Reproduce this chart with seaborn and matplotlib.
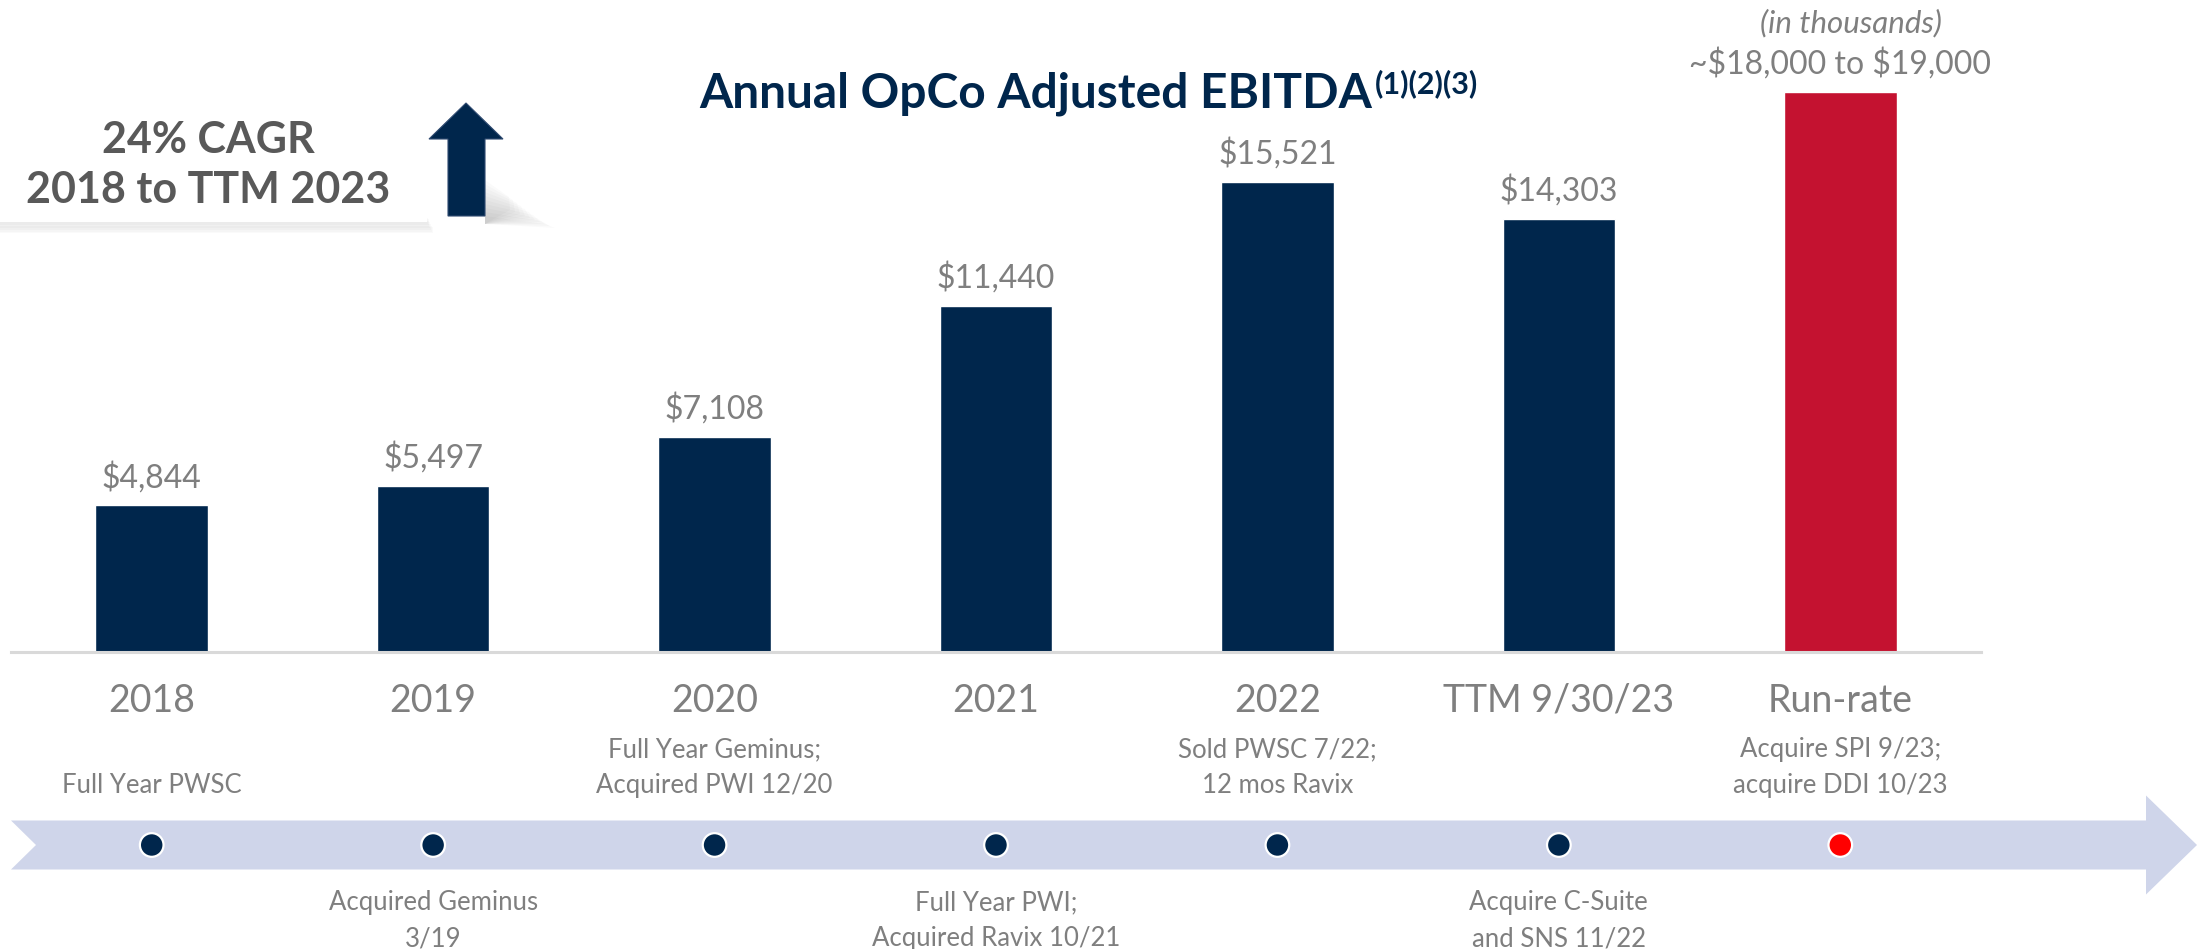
import numpy as np
import pandas as pd
import matplotlib
matplotlib.use("Agg")
import matplotlib.pyplot as plt
import matplotlib.transforms as mtransforms
from matplotlib.patches import Polygon, Rectangle
import seaborn as sns

# Data
categories = ["2018", "2019", "2020", "2021", "2022", "TTM 9/30/23", "Run-rate"]
ebitda = [4844, 5497, 7108, 11440, 15521, 14303, 18500]
value_labels = ["\\$4,844", "\\$5,497", "\\$7,108", "\\$11,440", "\\$15,521", "\\$14,303",
                "~\\$18,000 to \\$19,000"]
milestones = ["Full Year PWSC",
              "Acquired Geminus\n3/19",
              "Full Year Geminus;\nAcquired PWI 12/20",
              "Full Year PWI;\nAcquired Ravix 10/21",
              "Sold PWSC 7/22;\n12 mos Ravix",
              "Acquire C-Suite\nand SNS 11/22",
              "Acquire SPI 9/23;\nacquire DDI 10/23"]
milestone_above = [True, False, True, False, True, False, True]

NAVY = "#00264C"
RED = "#C41230"
GRAY = "#7F7F7F"
bar_colors = [NAVY] * 6 + [RED]
dot_colors = [NAVY] * 6 + ["#FF0000"]

df = pd.DataFrame({"period": categories, "ebitda": ebitda})

sns.set_theme(style="white")
plt.rcParams["font.family"] = ["Lato", "DejaVu Sans"]

W, H = 2208, 949
fig = plt.figure(figsize=(W / 100, H / 100), dpi=100)

# main bar axes
ymax = 20000
ax_h = ymax * 0.03028
ax = fig.add_axes([11 / W, (H - 652) / H, 1970 / W, ax_h / H])
ax.patch.set_alpha(0)
sns.barplot(data=df, x="period", y="ebitda", hue="period", palette=bar_colors,
            width=0.4, saturation=1, legend=False, ax=ax)
ax.set_xlim(-0.5, 6.5)
ax.set_ylim(0, ymax)
ax.set_xlabel("")
ax.set_ylabel("")
ax.set_yticks([])
for s in ["top", "right", "left"]:
    ax.spines[s].set_visible(False)
ax.spines["bottom"].set_color("#D9D9D9")
ax.spines["bottom"].set_linewidth(2.2)
ax.tick_params(axis="x", length=0, pad=22, labelsize=27, labelcolor=GRAY)

for i, (v, lab) in enumerate(zip(ebitda, value_labels)):
    ax.annotate(lab, (i, v), xytext=(0, 13), textcoords="offset points",
                ha="center", va="baseline", fontsize=23, color=GRAY)
ax.annotate("(in thousands)", (6, ebitda[6]), xytext=(8, 43),
            textcoords="offset points", ha="center", va="baseline",
            fontsize=22.5, color=GRAY, style="italic")

# overlay axes in pixel units (origin top-left) for decorations
px = fig.add_axes([0, 0, 1, 1], zorder=3)
px.set_xlim(0, W)
px.set_ylim(H, 0)
px.axis("off")

# title
title = px.text(699, 107, "Annual OpCo Adjusted EBITDA", ha="left", va="baseline",
                fontsize=34.5, fontweight="bold", color=NAVY)
px.annotate("(1)(2)(3)", xy=(1, 1), xycoords=title, xytext=(2, 1),
            textcoords="offset points", ha="left", va="top",
            fontsize=22, fontweight="bold", color=NAVY)

# CAGR box with soft shadow
for k in range(8):
    px.add_patch(Rectangle((0, 222 - 6 + k * 1.6), 427 + k * 0.8, 6, color="black",
                           alpha=0.018, lw=0, zorder=1))
px.add_patch(Rectangle((0, 100), 427, 122, color="white", lw=0, zorder=2))
px.text(208, 153, "24% CAGR", ha="center", va="baseline", fontsize=31,
        fontweight="bold", color="#595959", zorder=3)
px.text(208, 203, "2018 to TTM 2023", ha="center", va="baseline", fontsize=31,
        fontweight="bold", color="#595959", zorder=3)

# up arrow with shadow
for k in range(10):
    px.add_patch(Polygon([(485, 216 - k * 4), (485 + 60 - k * 4, 224 - k * 3),
                          (485 + 70 - k * 5, 228 - k * 2), (485, 224)],
                         closed=True, color="black", alpha=0.02, lw=0, zorder=1))
px.add_patch(Polygon([(466, 103), (503, 139), (485, 139), (485, 216), (448, 216),
                      (448, 139), (429, 139)], closed=True, facecolor=NAVY,
                     edgecolor="#2F4A70", lw=0.8, zorder=3))

# timeline band
band_y, half, head = 845, 24.5, 49.5
px.add_patch(Polygon([(11, band_y - half), (2146, band_y - half), (2146, band_y - head),
                      (2197, band_y), (2146, band_y + head), (2146, band_y + half),
                      (11, band_y + half), (36, band_y)], closed=True,
                     color="#CFD5EA", lw=0, zorder=1))

blend = mtransforms.blended_transform_factory(ax.transData, px.transData)
xs = np.arange(len(categories))
px.scatter(xs, [band_y] * len(xs), s=290, c=dot_colors, edgecolors="white",
           linewidths=1.6, transform=blend, zorder=4, clip_on=False)

for i, (txt, above) in enumerate(zip(milestones, milestone_above)):
    if above:
        px.text(i, 798, txt, transform=blend, ha="center", va="bottom",
                fontsize=18.5, color=GRAY, linespacing=1.55)
    else:
        px.text(i, 890, txt, transform=blend, ha="center", va="top",
                fontsize=18.5, color=GRAY, linespacing=1.55)

fig.savefig("out.png", dpi=100, facecolor="white")
